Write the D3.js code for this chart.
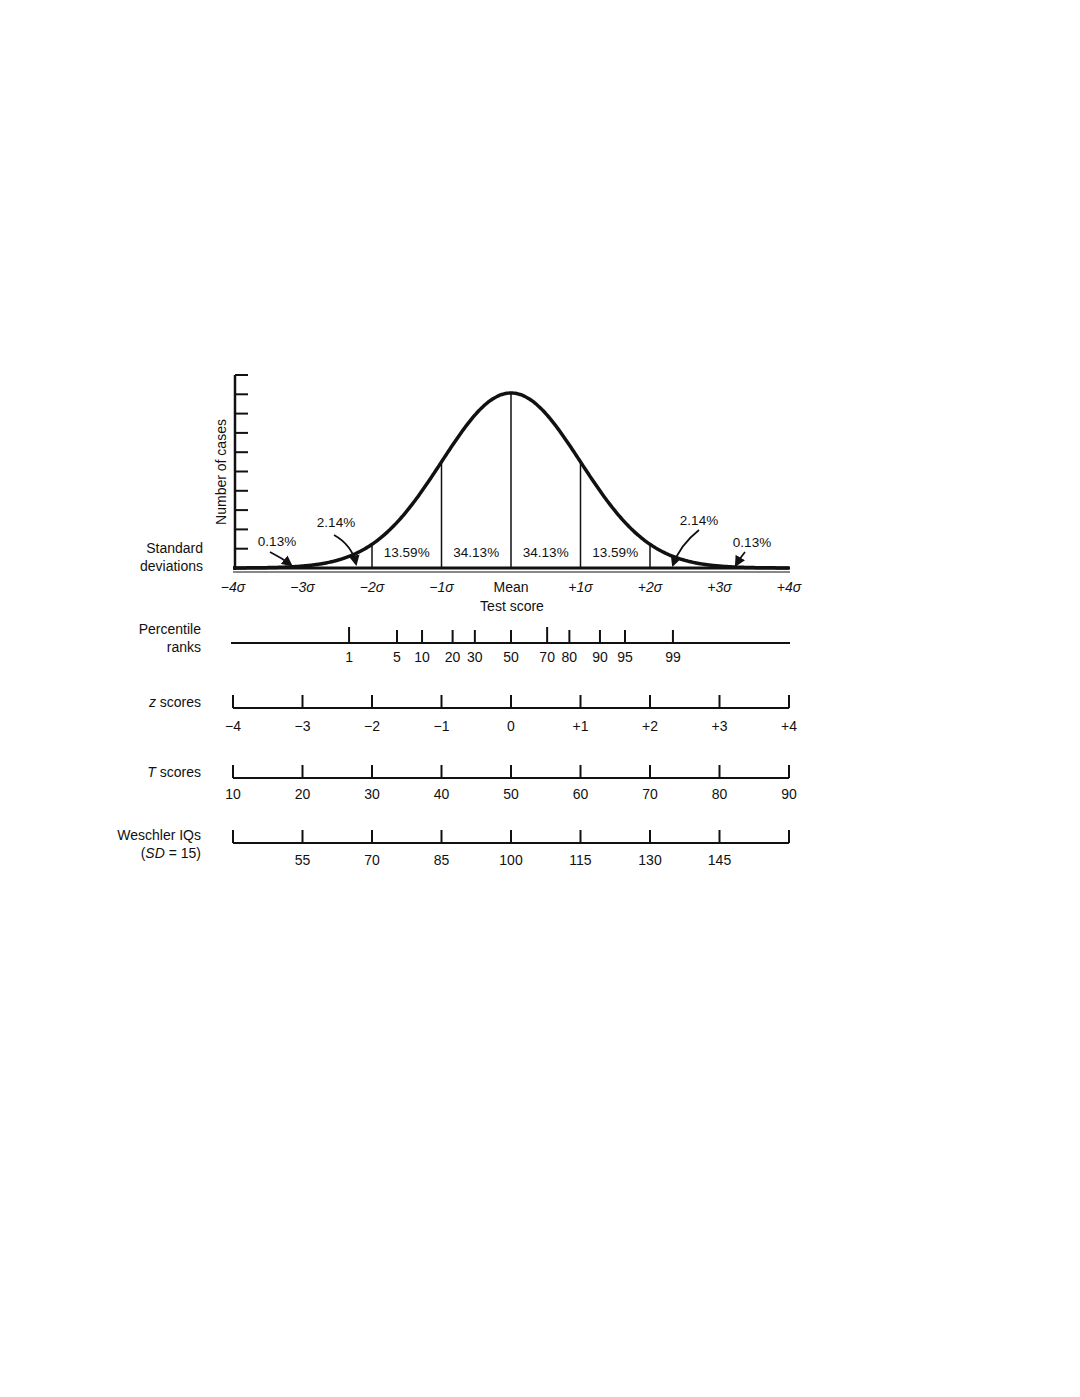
<!DOCTYPE html>
<html><head><meta charset="utf-8">
<script src="https://cdn.jsdelivr.net/npm/d3@7"></script>
<style>body{margin:0;background:#fff}text{font-family:"Liberation Sans",Arial,sans-serif;fill:#111}</style>
</head><body><svg id="c" width="1080" height="1397"></svg>
<script>
const sigmaLabels = ["−4σ","−3σ","−2σ","−1σ","Mean","+1σ","+2σ","+3σ","+4σ"];
const sigmaZ = [-4,-3,-2,-1,0,1,2,3,4];
const areaLabels = ["13.59%","34.13%","34.13%","13.59%"];
const areaZ = [-1.5,-0.5,0.5,1.5];
const percentiles = ["1","5","10","20","30","50","70","80","90","95","99"];
const percentileZ = [-2.33,-1.64,-1.28,-0.84,-0.52,0,0.52,0.84,1.28,1.64,2.33];
const zLabels = ["−4","−3","−2","−1","0","+1","+2","+3","+4"];
const tLabels = ["10","20","30","40","50","60","70","80","90"];
const iqLabels = ["","55","70","85","100","115","130","145",""];

const svg = d3.select("#c");
const x = d3.scaleLinear().domain([-4,4]).range([233,789]);
const y = d3.scaleLinear().domain([0,0.3989]).range([568,393]);
const pdf = z => Math.exp(-z*z/2)/Math.sqrt(2*Math.PI);

// y axis
const ya = d3.scaleLinear().domain([0,10]).range([568,375]);
svg.append("line").attr("x1",235).attr("x2",235).attr("y1",375).attr("y2",570).attr("stroke","#111").attr("stroke-width",2.5);
svg.selectAll(".yt").data(d3.range(1,11)).join("line").attr("x1",235).attr("x2",248)
  .attr("y1",d=>ya(d)).attr("y2",d=>ya(d)).attr("stroke","#111").attr("stroke-width",2);
svg.append("text").attr("transform","translate(226,472) rotate(-90)").attr("text-anchor","middle").attr("font-size",14).text("Number of cases");

// baseline
svg.append("line").attr("x1",233).attr("x2",790).attr("y1",568).attr("y2",568).attr("stroke","#111").attr("stroke-width",3);
svg.append("line").attr("x1",233).attr("x2",790).attr("y1",572).attr("y2",572).attr("stroke","#111").attr("stroke-width",1);

// curve
const pts = d3.range(-4,4.001,0.02);
svg.append("path").datum(pts).attr("d",d3.line().x(d=>x(d)).y(d=>y(pdf(d))).curve(d3.curveBasis))
  .attr("fill","none").attr("stroke","#111").attr("stroke-width",3.5);
svg.selectAll(".vl").data([-3,-2,-1,0,1,2,3]).join("line").attr("x1",d=>x(d)).attr("x2",d=>x(d))
  .attr("y1",568).attr("y2",d=>y(pdf(d))).attr("stroke","#111").attr("stroke-width",1.5);

svg.selectAll(".al").data(areaLabels).join("text").attr("x",(d,i)=>x(areaZ[i])).attr("y",557)
  .attr("text-anchor","middle").attr("font-size",13.5).text(d=>d);
svg.append("text").attr("x",277).attr("y",546).attr("text-anchor","middle").attr("font-size",13.5).text("0.13%");
svg.append("text").attr("x",336).attr("y",527).attr("text-anchor","middle").attr("font-size",13.5).text("2.14%");
svg.append("text").attr("x",699).attr("y",525).attr("text-anchor","middle").attr("font-size",13.5).text("2.14%");
svg.append("text").attr("x",752).attr("y",547).attr("text-anchor","middle").attr("font-size",13.5).text("0.13%");
svg.append("defs").append("marker").attr("id","ah").attr("viewBox","0 0 10 10").attr("refX",8).attr("refY",5)
  .attr("markerWidth",6).attr("markerHeight",6).attr("orient","auto").append("path").attr("d","M0,0L10,5L0,10z").attr("fill","#111");
const arrows = ["M270,552 Q282,558 291,565","M334,535 Q352,545 356,564","M699,530 Q680,545 673,565","M745,552 Q740,558 736,565"];
svg.selectAll(".ar").data(arrows).join("path").attr("d",d=>d).attr("fill","none").attr("stroke","#111").attr("stroke-width",1.8).attr("marker-end","url(#ah)");

svg.selectAll(".sl").data(sigmaLabels).join("text").attr("x",(d,i)=>x(sigmaZ[i])).attr("y",592)
  .attr("text-anchor","middle").attr("font-size",14).attr("font-style",(d,i)=>i==4?"normal":"italic").text(d=>d);
svg.append("text").attr("x",512).attr("y",611).attr("text-anchor","middle").attr("font-size",14).text("Test score");
svg.append("text").attr("x",203).attr("y",553).attr("text-anchor","end").attr("font-size",14).text("Standard");
svg.append("text").attr("x",203).attr("y",571).attr("text-anchor","end").attr("font-size",14).text("deviations");

// percentile line
svg.append("line").attr("x1",231).attr("x2",790).attr("y1",643).attr("y2",643).attr("stroke","#111").attr("stroke-width",1.8);
svg.selectAll(".pt").data(percentileZ).join("line").attr("x1",d=>x(d)).attr("x2",d=>x(d)).attr("y1",643).attr("y2",(d,i)=>i==0||i==6?627:630).attr("stroke","#111").attr("stroke-width",2);
svg.selectAll(".pl").data(percentiles).join("text").attr("x",(d,i)=>x(percentileZ[i])).attr("y",662).attr("text-anchor","middle").attr("font-size",14).text(d=>d);
svg.append("text").attr("x",201).attr("y",634).attr("text-anchor","end").attr("font-size",14).text("Percentile");
svg.append("text").attr("x",201).attr("y",652).attr("text-anchor","end").attr("font-size",14).text("ranks");

function scaleRow(yy, labels, name, name2, labY){
  svg.append("line").attr("x1",x(-4)).attr("x2",x(4)).attr("y1",yy).attr("y2",yy).attr("stroke","#111").attr("stroke-width",2);
  svg.selectAll(null).data(sigmaZ).join("line").attr("x1",d=>x(d)).attr("x2",d=>x(d)).attr("y1",yy).attr("y2",yy-13).attr("stroke","#111").attr("stroke-width",2);
  svg.selectAll(null).data(labels).join("text").attr("x",(d,i)=>x(sigmaZ[i])).attr("y",yy+labY).attr("text-anchor","middle").attr("font-size",14).text(d=>d);
  svg.append("text").attr("x",201).attr("y",name2?yy-3:yy-1).attr("text-anchor","end").attr("font-size",14).html(name);
  if(name2) svg.append("text").attr("x",201).attr("y",yy+15).attr("text-anchor","end").attr("font-size",14).html(name2);
}
scaleRow(708, zLabels, '<tspan font-style="italic">z</tspan> scores', null, 23);
scaleRow(778, tLabels, '<tspan font-style="italic">T</tspan> scores', null, 21);
scaleRow(843, iqLabels, 'Weschler IQs', '(<tspan font-style="italic">SD</tspan> = 15)', 22);
</script></body></html>
